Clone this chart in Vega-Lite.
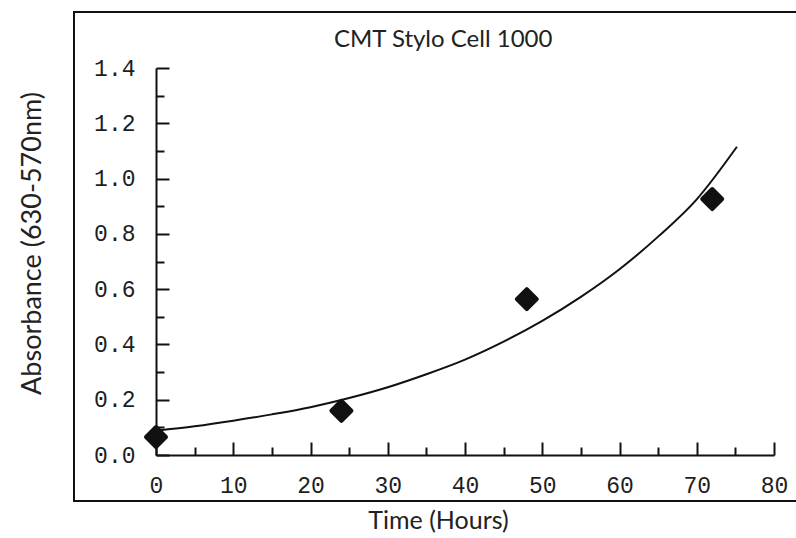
{
  "$schema": "https://vega.github.io/schema/vega-lite/v6.json",
  "width": 722,
  "height": 489,
  "autosize": {"type": "none"},
  "padding": {"left": 74, "top": 12, "right": 0, "bottom": 37},
  "background": "white",
  "config": {
    "view": {"stroke": null},
    "axis": {"grid": false}
  },
  "title": {
    "text": "CMT Stylo Cell 1000",
    "font": "Lato",
    "fontSize": 24,
    "fontWeight": "normal",
    "color": "#222222",
    "anchor": "start",
    "baseline": "alphabetic",
    "offset": 0,
    "dy": 60,
    "dx": 316
  },
  "layer": [
    {
      "data": {"values": [{"frame": "box"}]},
      "mark": {"type": "rect", "fill": "transparent", "stroke": "#111111", "strokeWidth": 2, "clip": false},
      "encoding": {
        "x": {"datum": -10.615, "type": "quantitative", "axis": null, "scale": {"domain": [0, 80], "range": [82, 700], "nice": false, "zero": false}},
        "x2": {"datum": 100},
        "y": {"datum": -0.1664, "type": "quantitative", "axis": null, "scale": {"domain": [0, 1.4], "range": [443, 56], "nice": false, "zero": false}},
        "y2": {"datum": 1.6026}
      }
    },
    {
      "data": {"values": [
        {"time": 0, "absorbance": 0.088},
        {"time": 5, "absorbance": 0.104},
        {"time": 10, "absorbance": 0.124},
        {"time": 15, "absorbance": 0.147},
        {"time": 20, "absorbance": 0.173},
        {"time": 25, "absorbance": 0.206},
        {"time": 30, "absorbance": 0.245},
        {"time": 35, "absorbance": 0.292},
        {"time": 40, "absorbance": 0.345},
        {"time": 45, "absorbance": 0.41},
        {"time": 50, "absorbance": 0.485},
        {"time": 55, "absorbance": 0.572},
        {"time": 60, "absorbance": 0.672},
        {"time": 65, "absorbance": 0.79},
        {"time": 70, "absorbance": 0.925},
        {"time": 75.2, "absorbance": 1.115}
      ]},
      "mark": {"type": "line", "color": "#111111", "strokeWidth": 2, "interpolate": "monotone"},
      "encoding": {
        "x": {
          "field": "time", "type": "quantitative",
          "scale": {"domain": [0, 80], "range": [82, 700], "nice": false, "zero": false},
          "axis": {"orient": "bottom", "offset": -46, "values": [5, 15, 25, 35, 45, 55, 65, 75], "tickSize": -8, "tickWidth": 2, "tickColor": "#111111", "labels": false, "title": null, "domain": false}
        },
        "y": {
          "field": "absorbance", "type": "quantitative",
          "scale": {"domain": [0, 1.4], "range": [443, 56], "nice": false, "zero": false},
          "axis": {"orient": "left", "offset": -82, "values": [0.1, 0.3, 0.5, 0.7, 0.9, 1.1, 1.3], "tickSize": -8, "tickWidth": 2, "tickColor": "#111111", "labels": false, "title": null, "domain": false}
        }
      }
    },
    {
      "data": {"values": [
        {"time": 0, "absorbance": 0.065},
        {"time": 24, "absorbance": 0.16},
        {"time": 48, "absorbance": 0.564},
        {"time": 72, "absorbance": 0.926}
      ]},
      "mark": {"type": "point", "shape": "diamond", "filled": true, "size": 400, "color": "#111111", "stroke": "#111111", "strokeWidth": 4, "strokeJoin": "round", "opacity": 1},
      "encoding": {
        "x": {
          "field": "time", "type": "quantitative",
          "scale": {"domain": [0, 80], "range": [82, 700], "nice": false, "zero": false},
          "axis": {
            "orient": "bottom", "offset": -46, "values": [0, 10, 20, 30, 40, 50, 60, 70, 80],
            "tickSize": -13, "tickWidth": 2, "tickColor": "#111111",
            "domainColor": "#111111", "domainWidth": 2,
            "labelFont": "Liberation Mono", "labelFontSize": 23, "labelColor": "#1e1e1e", "labelPadding": 32,
            "labelFlush": false, "labelOverlap": false,
            "title": "Time (Hours)", "titleFont": "Lato", "titleFontSize": 25, "titleFontWeight": "normal", "titleColor": "#222222",
            "titleX": 364, "titleY": 65, "titleBaseline": "middle", "titleAnchor": "middle"
          }
        },
        "y": {
          "field": "absorbance", "type": "quantitative",
          "scale": {"domain": [0, 1.4], "range": [443, 56], "nice": false, "zero": false},
          "axis": {
            "orient": "left", "offset": -82, "values": [0, 0.2, 0.4, 0.6, 0.8, 1.0, 1.2, 1.4], "format": ".1f",
            "tickSize": -13, "tickWidth": 2, "tickColor": "#111111",
            "domainColor": "#111111", "domainWidth": 2,
            "labelFont": "Liberation Mono", "labelFontSize": 23, "labelColor": "#1e1e1e", "labelPadding": 34,
            "labelFlush": false, "labelOverlap": false,
            "title": "Absorbance (630-570nm)", "titleFont": "Lato", "titleFontSize": 27, "titleFontWeight": "normal", "titleColor": "#222222",
            "titleX": -124, "titleY": 231, "titleBaseline": "middle", "titleAnchor": "middle", "titleAngle": -90
          }
        }
      }
    }
  ],
  "resolve": {"axis": {"x": "independent", "y": "independent"}}
}
